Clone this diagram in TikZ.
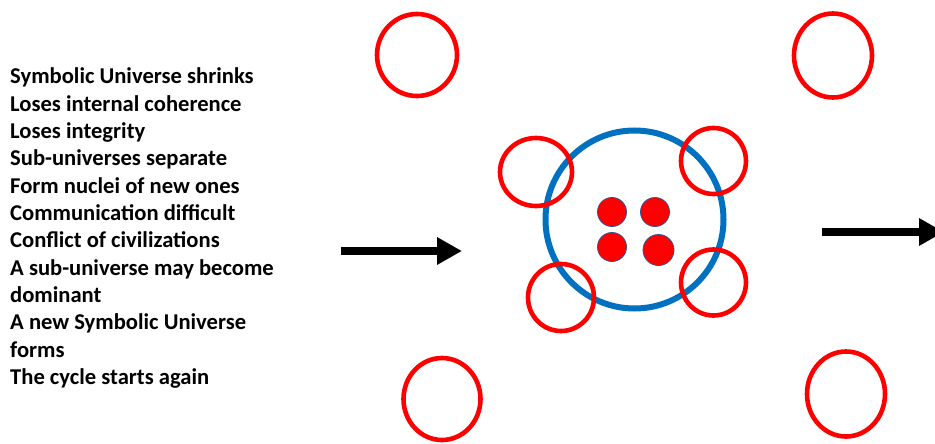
\documentclass[tikz,border=0pt]{standalone}
\usepackage{fontspec}
\setmainfont{Carlito}
\usetikzlibrary{arrows.meta}
\definecolor{ringred}{HTML}{FF0000}
\definecolor{ringblue}{HTML}{0070C0}
\definecolor{dotedge}{HTML}{2F528F}
\tikzset{
  redring/.style={draw=ringred, line width=4.6pt},
  bluering/.style={draw=ringblue, line width=6pt},
  nucleus/.style={fill=ringred, draw=dotedge, line width=0.8pt},
  bigarrow/.style={line width=8pt, -{Triangle[length=25pt,width=26pt]}},
  txt/.style={anchor=base west, inner sep=0pt, font=\fontsize{22.6}{27}\selectfont\bfseries}
}
\begin{document}
\begin{tikzpicture}[x=1pt,y=-1pt]
\useasboundingbox (0,0) rectangle (935,444);
\clip (0,0) rectangle (935,444);
% text
\foreach \t [count=\i from 0] in {Symbolic Universe shrinks,Loses internal coherence,Loses integrity,Sub-universes separate,Form nuclei of new ones,Communication difficult,Conflict of civilizations,A sub-universe may become,dominant,A new Symbolic Universe,forms,The cycle starts again}
  \node[txt] (t\i) at (10,{84+27.3*\i}) {\t};
% arrows
\coordinate (a1s) at (341,251);
\coordinate (a1e) at (462,251);
\coordinate (a2s) at (822,232);
\coordinate (a2e) at (944,232);
\draw[bigarrow] (a1s) -- (a1e);
\draw[bigarrow] (a2s) -- (a2e);
% outer rings
\draw[redring] (417,55) ellipse (40 and 41);
\draw[redring] (833,55.5) ellipse (39 and 42);
\draw[redring] (442,399) ellipse (38.5 and 41);
\draw[redring] (846,394) ellipse (39 and 42.5);
% blue universe
\draw[bluering] (634.5,219.5) circle (89);
% small rings
\draw[redring] (536,172) ellipse (36 and 34);
\draw[redring] (713.5,161) ellipse (32.5 and 33);
\draw[redring] (561,297.5) ellipse (33 and 33.5);
\draw[redring] (713.5,282.5) ellipse (32.5 and 33);
% nuclei
\draw[nucleus] (612,212) circle (14.5);
\draw[nucleus] (655,212) circle (14.5);
\draw[nucleus] (612,247) circle (14.5);
\draw[nucleus] (658.5,250) circle (15.5);
\end{tikzpicture}
\end{document}
